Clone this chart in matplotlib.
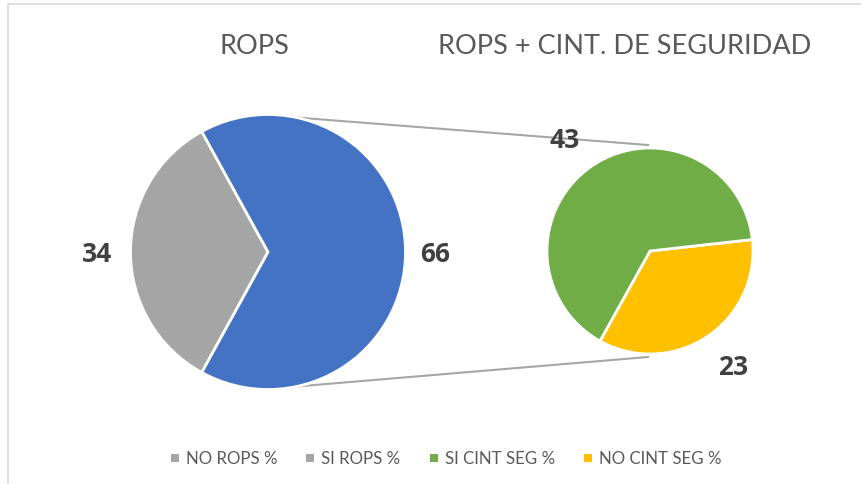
import matplotlib
matplotlib.use("Agg")
import matplotlib.pyplot as plt
import numpy as np
from matplotlib.patches import Rectangle

# ---- data ----
left_labels = ["SI ROPS %", "NO ROPS %"]
left_values = [66, 34]
left_colors = ["#4472C4", "#A5A5A5"]

right_labels = ["SI CINT SEG %", "NO CINT SEG %"]
right_values = [43, 23]
right_colors = ["#70AD47", "#FFC000"]

legend_labels = ["NO ROPS %", "SI ROPS %", "SI CINT SEG %", "NO CINT SEG %"]
legend_colors = ["#A5A5A5", "#A5A5A5", "#70AD47", "#FFC000"]

titles = ["ROPS", "ROPS + CINT. DE SEGURIDAD"]

W, H = 861, 485
fig = plt.figure(figsize=(W / 100, H / 100), dpi=100)
ax = fig.add_axes([0, 0, 1, 1])

def Y(y):
    return H - y

# border (top and left visible)
ax.add_patch(Rectangle((8, -20), W + 40, Y(5) + 20, fill=False,
                       edgecolor="#D9D9D9", linewidth=1.2))

# left pie
lc = (268, Y(253)); lr = 137.5
gray_frac = left_values[1] / sum(left_values)
ax.pie([left_values[1], left_values[0]], colors=[left_colors[1], left_colors[0]],
       startangle=180 - gray_frac * 180, counterclock=True,
       center=lc, radius=lr, frame=True,
       wedgeprops=dict(edgecolor="white", linewidth=2))

# right pie
rc = (650, Y(252)); rr = 103
yel_frac = right_values[1] / sum(right_values)
yel_end = 6.4
ax.pie([right_values[1], right_values[0]], colors=[right_colors[1], right_colors[0]],
       startangle=yel_end - yel_frac * 360, counterclock=True,
       center=rc, radius=rr, frame=True,
       wedgeprops=dict(edgecolor="white", linewidth=2))

ax.set_xlim(0, W)
ax.set_ylim(0, H)
ax.set_aspect("equal")
ax.axis("off")

# connector lines
a = np.deg2rad(78)
p_top = (lc[0] + lr * np.cos(a), lc[1] + lr * np.sin(a))
p_bot = (lc[0] + lr * np.cos(a), lc[1] - lr * np.sin(a))
q_top = (rc[0] - 2, rc[1] + rr + 3)
q_bot = (rc[0] - 2, rc[1] - rr - 3)
ax.plot([p_top[0], q_top[0]], [p_top[1], q_top[1]], color="#A6A6A6", lw=1.5, zorder=0)
ax.plot([p_bot[0], q_bot[0]], [p_bot[1], q_bot[1]], color="#A6A6A6", lw=1.5, zorder=0)

# data labels
lab_kw = dict(fontsize=19, fontweight="bold", color="#404040", family="Open Sans",
              ha="center", va="center", zorder=5)
ax.text(97, Y(254), str(left_values[1]), **lab_kw)
ax.text(435, Y(254), str(left_values[0]), **lab_kw)
ax.text(565, Y(141), str(right_values[0]), **lab_kw)
ax.text(733, Y(368), str(right_values[1]), **lab_kw)

# titles
t_kw = dict(fontsize=19.5, color="#595959", family="Lato", ha="center", va="center")
ax.text(254, Y(46), titles[0], **t_kw)
ax.text(625, Y(46), titles[1], **t_kw)

# legend
leg_x = [175, 310, 434, 588]
for x, lab, col in zip(leg_x, legend_labels, legend_colors):
    ax.add_patch(Rectangle((x - 4, Y(459) - 4), 8, 8, facecolor=col, edgecolor="none"))
    ax.text(x + 11, Y(459), lab, fontsize=12.2, color="#595959", family="Lato",
            ha="left", va="center")

fig.savefig("out.png", dpi=100)
